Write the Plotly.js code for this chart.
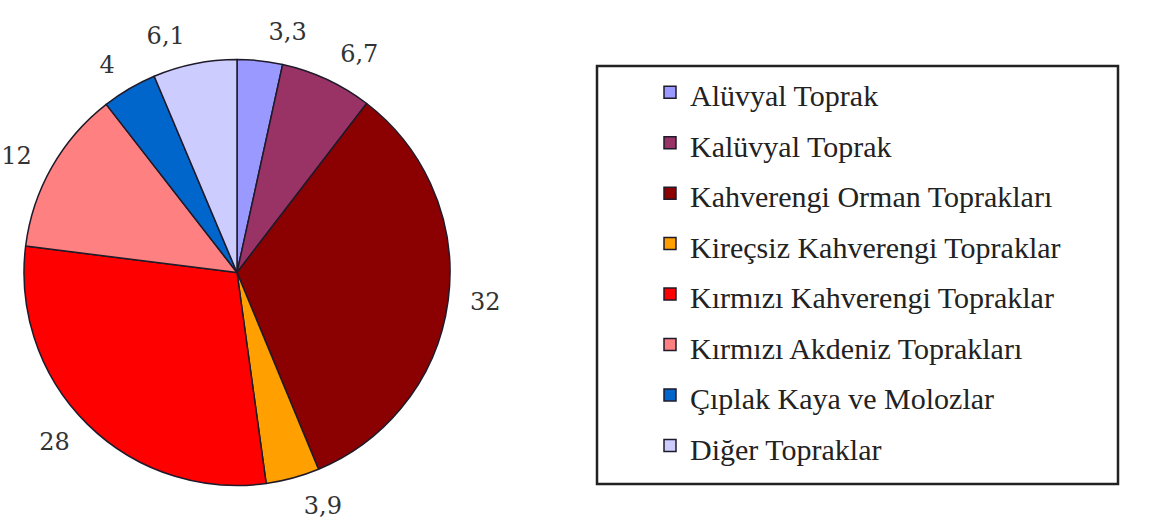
<!DOCTYPE html>
<html>
<head>
<meta charset="utf-8">
<script src="https://cdn.plot.ly/plotly-3.0.1.min.js"></script>
<style>html,body{margin:0;padding:0;background:#fff;}#chart{width:1157px;height:531px;}</style>
</head>
<body>
<div id="chart"></div>
<script>
const categories = [
  'Alüvyal Toprak',
  'Kalüvyal Toprak',
  'Kahverengi Orman Toprakları',
  'Kireçsiz Kahverengi Topraklar',
  'Kırmızı Kahverengi Topraklar',
  'Kırmızı Akdeniz Toprakları',
  'Çıplak Kaya ve Molozlar',
  'Diğer Topraklar'
];
const values = [3.3, 6.7, 32, 3.9, 28, 12, 4, 6.1];
const colors = ['#9999FF', '#993366', '#8B0000', '#FFA000', '#FF0000', '#FF8080', '#0066CC', '#CCCCFF'];

const W = 1157, H = 531;
const LABEL_FONT = 'DejaVu Serif';
const LEGEND_FONT = 'Liberation Serif';
const valueLabels = values.map(v => String(v).replace('.', ','));
const legendNames = categories.map(c => '<span style="font-size:30px">' + c + '</span>');

function domainFor(cx, cy, r) {
  return {
    x: [(cx - r) / W, (cx + r) / W],
    y: [(H - cy - r) / H, (H - cy + r) / H]
  };
}

const mainPie = {
  type: 'pie',
  labels: legendNames,
  values: values,
  sort: false,
  direction: 'clockwise',
  rotation: 0,
  marker: { colors: colors, line: { color: '#1f1a2a', width: 1.5 } },
  textinfo: 'none',
  hoverinfo: 'none',
  domain: domainFor(237, 272.5, 213),
  showlegend: true
};

// Two transparent pies carry the outside value labels (alternating slices),
// so neighbouring labels are not pushed apart with leader lines.
function labelPie(parity) {
  return {
    type: 'pie',
    labels: legendNames,
    values: values,
    sort: false,
    direction: 'clockwise',
    rotation: 0,
    marker: { colors: values.map(() => 'rgba(0,0,0,0)'), line: { width: 0 } },
    text: valueLabels,
    textinfo: 'text',
    textposition: values.map((v, i) => (i % 2 === parity ? 'outside' : 'none')),
    outsidetextfont: { family: LABEL_FONT, size: 24, color: '#333' },
    textfont: { family: LABEL_FONT, size: 24, color: '#333' },
    hoverinfo: 'none',
    domain: domainFor(237, 272.5, 228),
    showlegend: false
  };
}

const layout = {
  width: W,
  height: H,
  margin: { l: 0, r: 0, t: 0, b: 0 },
  paper_bgcolor: '#fff',
  font: { family: LEGEND_FONT, color: '#222' },
  showlegend: true,
  legend: {
    x: 650 / W,
    xanchor: 'left',
    y: 1 - 62 / H,
    yanchor: 'top',
    bgcolor: 'rgba(0,0,0,0)',
    borderwidth: 0,
    font: { family: LEGEND_FONT, size: 36.5, color: '#222' },
    traceorder: 'normal'
  },
  shapes: [{
    type: 'rect', xref: 'paper', yref: 'paper',
    x0: 597 / W, x1: 1118 / W, y0: 1 - 484 / H, y1: 1 - 66 / H,
    line: { color: '#222', width: 2.5 }, fillcolor: 'rgba(0,0,0,0)'
  }]
};

Plotly.newPlot('chart', [mainPie, labelPie(0), labelPie(1)], layout, { staticPlot: true, displayModeBar: false });
</script>
</body>
</html>
